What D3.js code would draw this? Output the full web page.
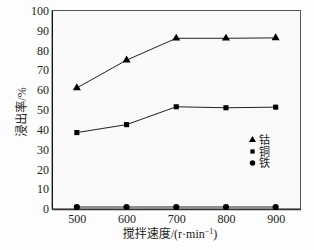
<!DOCTYPE html>
<html><head><meta charset="utf-8">
<script src="https://cdn.jsdelivr.net/npm/d3@7"></script>
<style>
html,body{margin:0;padding:0;background:#fff;}
svg{display:block;}
text{font-family:"Liberation Serif","Noto Sans CJK SC",serif;fill:#222;}
</style></head>
<body>
<svg id="c" width="314" height="250"></svg>
<script>
const speeds = [500, 600, 700, 800, 900];
const cobalt = [61, 75, 86, 86, 86.2];
const copper = [38.5, 42.5, 51.5, 51, 51.3];
const iron = [1, 1, 1, 1, 1];
const yTicks = [0, 10, 20, 30, 40, 50, 60, 70, 80, 90, 100];
const seriesNames = ["钴", "铜", "铁"];
const xLabel = "搅拌速度/(r·min";
const yLabel = "浸出率/%";

const svg = d3.select("#c");
const m = {l: 52, t: 10.5, r: 300.5, b: 209};
const x = d3.scaleLinear().domain([450, 950]).range([m.l, m.r]);
const y = d3.scaleLinear().domain([0, 100]).range([m.b, m.t]);

svg.append("rect").attr("x", 0).attr("y", 0).attr("width", 314).attr("height", 250).attr("fill", "#fdfdfd");
svg.append("rect").attr("x", m.l).attr("y", m.t).attr("width", m.r - m.l).attr("height", m.b - m.t)
  .attr("fill", "#fafafa").attr("stroke", "#555").attr("stroke-width", 1);

const yAxis = d3.axisLeft(y).tickValues(yTicks).tickSize(0).tickPadding(3);
const gy = svg.append("g").attr("transform", `translate(${m.l},0)`).call(yAxis);
gy.select(".domain").attr("stroke", "#111");
gy.selectAll("text").attr("font-size", 12).attr("fill", "#222");

const xAxis = d3.axisBottom(x).tickValues(speeds).tickSize(0).tickPadding(5);
const gx = svg.append("g").attr("transform", `translate(0,${m.b})`).call(xAxis);
gx.select(".domain").attr("stroke", "#333").attr("stroke-width", 1.6);
gx.selectAll("text").attr("font-size", 12).attr("fill", "#222");

const line = d3.line().x((d, i) => x(speeds[i])).y(d => y(d));
[cobalt, copper, iron].forEach(s => {
  svg.append("path").attr("d", line(s)).attr("fill", "none").attr("stroke", "#222").attr("stroke-width", 1);
});

const tri = d3.symbol().type(d3.symbolTriangle).size(28);
const sq = d3.symbol().type(d3.symbolSquare).size(26);
const circ = d3.symbol().type(d3.symbolCircle).size(30);

svg.selectAll(".co").data(cobalt).join("path").attr("d", tri)
  .attr("transform", (d, i) => `translate(${x(speeds[i])},${y(d)})`).attr("fill", "#000");
svg.selectAll(".cu").data(copper).join("path").attr("d", sq)
  .attr("transform", (d, i) => `translate(${x(speeds[i])},${y(d)})`).attr("fill", "#000");
svg.selectAll(".fe").data(iron).join("path").attr("d", circ)
  .attr("transform", (d, i) => `translate(${x(speeds[i])},${y(d)})`).attr("fill", "#000");

// legend
const leg = svg.append("g");
const legY = [140, 151.5, 163];
seriesNames.forEach((n, i) => {
  leg.append("path").attr("d", d3.symbol().type([d3.symbolTriangle, d3.symbolSquare, d3.symbolCircle][i]).size([22, 18, 24][i]))
    .attr("transform", `translate(252.5,${legY[i]})`).attr("fill", "#000");
  leg.append("text").attr("x", 259).attr("y", legY[i] + 4).attr("font-size", 11).text(n);
});

// axis titles
const xt = svg.append("text").attr("x", 170).attr("y", 238).attr("text-anchor", "middle").attr("font-size", 12);
xt.append("tspan").text(xLabel);
xt.append("tspan").attr("font-size", 8).attr("dy", -4).text("−1");
xt.append("tspan").attr("dy", 4).text(")");

svg.append("text").attr("transform", "translate(26,112) rotate(-90)").attr("text-anchor", "middle")
  .attr("font-size", 12).text(yLabel);
</script>
</body></html>
